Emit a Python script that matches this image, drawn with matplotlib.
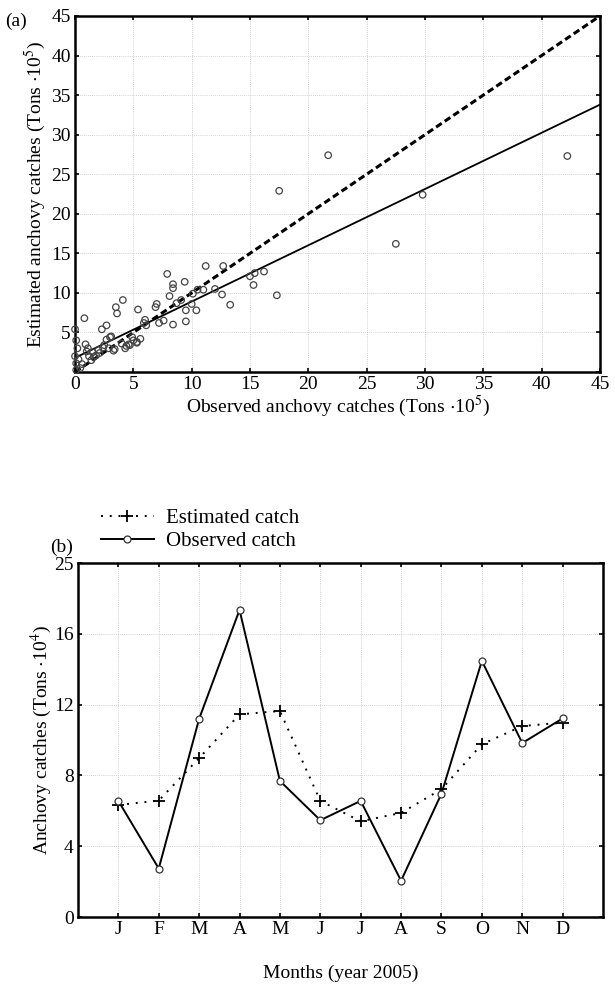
import numpy as np
import matplotlib.pyplot as plt

plt.rcParams['font.family'] = ['Liberation Serif', 'DejaVu Serif']
plt.rcParams['mathtext.fontset'] = 'stix'

# (a) observed vs estimated catches (Tons x 10^5)
obs_x = [0.0, 0.1, 0.2, 0.1, 0.1, 0.45, 0.8, 0.9, 1.1, 1.2, 1.6, 1.8, 2.1, 2.3, 2.7,
         2.5, 2.7, 3.0, 3.1, 2.9, 3.4, 3.5, 3.6, 4.1, 4.0, 4.4, 4.7, 4.9, 5.0, 5.4,
         5.3, 5.6, 5.9, 6.0, 6.1, 6.9, 7.0, 7.2, 7.6, 7.9, 8.1, 8.4, 8.4, 8.4, 8.7,
         9.1, 9.4, 9.5, 9.5, 10.0, 10.1, 10.4, 10.5, 11.0, 11.2, 12.0, 12.6, 12.7, 13.3, 15.0,
         15.3, 15.4, 16.2, 17.3, 17.5, 21.7, 27.5, 29.8, 42.2, 0.0, 0.3, 1.4, 1.0, 2.0,
         0.6, 1.5, 2.4, 3.3, 4.3, 4.6, 5.3]
est_y = [5.4, 4.0, 3.0, 1.1, 0.25, 0.5, 6.8, 3.5, 3.0, 2.0, 1.9, 2.1, 2.4, 5.4, 5.9,
         3.4, 4.1, 4.4, 4.5, 3.0, 2.9, 8.2, 7.4, 9.1, 3.6, 3.3, 3.4, 4.4, 4.0, 7.9,
         3.8, 4.2, 6.2, 6.6, 5.9, 8.2, 8.6, 6.2, 6.5, 12.4, 9.6, 11.1, 10.6, 6.0, 8.7,
         9.1, 11.4, 7.8, 6.4, 8.6, 9.9, 7.8, 10.4, 10.4, 13.4, 10.5, 9.8, 13.4, 8.5, 12.1,
         11.0, 12.5, 12.7, 9.7, 22.9, 27.4, 16.2, 22.4, 27.3, 2.0, 1.6, 1.5, 2.6, 2.8,
         1.0, 2.5, 3.1, 2.7, 3.0, 3.5, 3.7]
fit_intercept = 1.8
fit_slope = 0.711

# (b) monthly catches 2005 (Tons x 10^4)
months = ['J', 'F', 'M', 'A', 'M', 'J', 'J', 'A', 'S', 'O', 'N', 'D']
observed = [6.56, 2.74, 11.2, 17.35, 7.69, 5.47, 6.56, 2.05, 6.97, 14.47, 9.83, 11.22]
estimated = [6.33, 6.58, 8.98, 11.45, 11.64, 6.56, 5.41, 5.88, 7.22, 9.76, 10.79, 10.98]
b_yticks = [0, 4, 8, 12, 16, 20]
b_yticklabels = ['0', '4', '8', '12', '16', '25']

fig = plt.figure(figsize=(6.15, 9.85), dpi=100)

grid_kw = dict(color='#c4c4c4', linestyle=(0, (1, 1.5)), linewidth=0.6)
fs = 14

# ---- panel (a)
ax1 = fig.add_axes([0.122, 0.6223, 0.8536, 0.3615])
xx = np.array([0, 45])
ax1.plot(xx, xx, color='black', linestyle=(0, (2.2, 1.2)), linewidth=2.2, zorder=3)
ax1.plot(xx, fit_intercept + fit_slope * xx, color='black', linewidth=1.3, zorder=3)
ax1.scatter(obs_x, est_y, s=22, facecolors='none', edgecolors='#444444',
            linewidths=0.9, zorder=4, clip_on=False)
ax1.set_xlim(0, 45)
ax1.set_ylim(0, 45)
ax1.set_xticks(range(0, 46, 5))
ax1.set_yticks(range(0, 46, 5))
ax1.set_yticklabels(['', '5'] + [str(v) for v in range(10, 46, 5)])
ax1.grid(True, **grid_kw)
ax1.set_xlabel(r'Observed anchovy catches (Tons $\cdot$10$^5$)', fontsize=fs, labelpad=0)
ax1.set_ylabel(r'Estimated anchovy catches (Tons $\cdot$10$^5$)', fontsize=fs, labelpad=2)
fig.text(0.008, 0.978, '(a)', fontsize=fs, ha='left', va='center')

# ---- panel (b)
ax2 = fig.add_axes([0.1268, 0.069, 0.8537, 0.3594])
mx = np.arange(1, 13)
l_est, = ax2.plot(mx, estimated, color='black', linestyle=(0, (1, 3.5)), linewidth=1.4,
                  marker='+', markersize=9, markeredgewidth=1.3, label='Estimated catch')
l_obs, = ax2.plot(mx, observed, color='black', linewidth=1.4, marker='o', markersize=5,
                  markerfacecolor='white', markeredgecolor='#333333', markeredgewidth=0.9,
                  label='Observed catch')
ax2.set_xlim(0, 13)
ax2.set_ylim(0, 20)
ax2.set_xticks(mx)
ax2.set_xticklabels(months)
ax2.set_yticks(b_yticks)
ax2.set_yticklabels(b_yticklabels)
ax2.grid(True, **grid_kw)
ax2.set_xlabel('Months (year 2005)', fontsize=fs, labelpad=19)
ax2.set_ylabel(r'Anchovy catches (Tons $\cdot$10$^4$)', fontsize=fs, labelpad=0)
fig.text(0.082, 0.444, '(b)', fontsize=fs, ha='left', va='center')
fig.legend(handles=[l_est, l_obs], loc='upper left', bbox_to_anchor=(0.148, 0.494),
           frameon=False, fontsize=15, handlelength=2.5, handletextpad=0.6,
           labelspacing=0.15, borderpad=0)

for ax in (ax1, ax2):
    for sp in ax.spines.values():
        sp.set_linewidth(1.8)
    ax.tick_params(direction='in', length=3, width=1.2, top=True, right=True,
                   labelsize=fs, pad=3)
    ax.set_axisbelow(True)

fig.savefig('out.png', dpi=100)
